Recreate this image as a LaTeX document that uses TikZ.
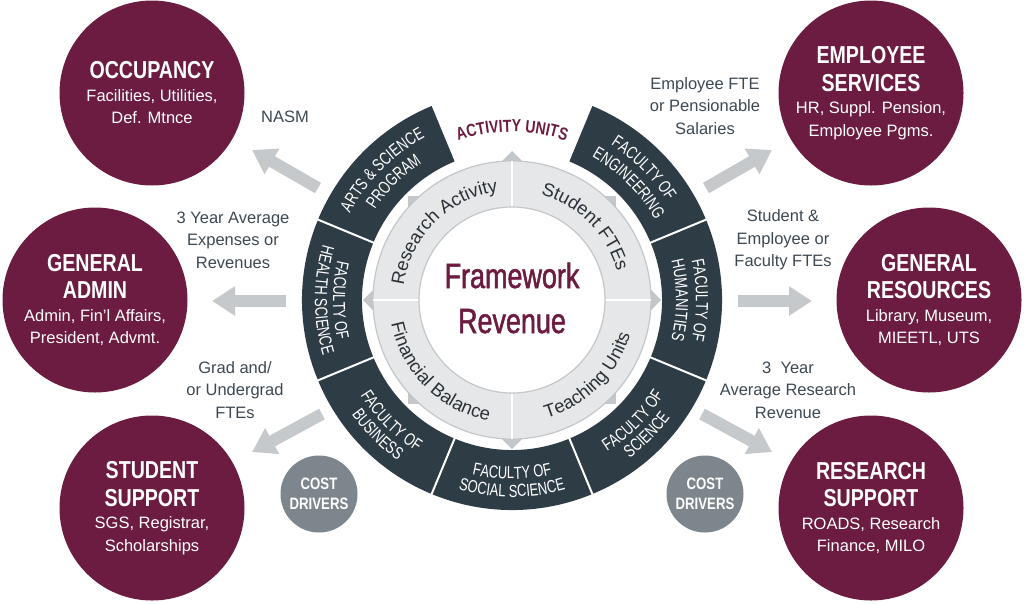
\documentclass[tikz,border=0pt]{standalone}
\usepackage{fontspec}
\setmainfont{Liberation Sans}
\newfontfamily\condf[FakeStretch=0.8]{Liberation Sans}
\newfontfamily\segfam[FakeStretch=0.74]{Liberation Sans}
\newfontfamily\medf[FakeStretch=0.77,FakeBold=1.4]{Liberation Sans}
\usetikzlibrary{arrows.meta,calc,decorations.text}
\definecolor{maroon}{HTML}{6C1B41}
\definecolor{slate}{HTML}{2E3C46}
\definecolor{arrowgray}{HTML}{C5C9CC}
\definecolor{ringfill}{HTML}{E6E7E8}
\definecolor{ringedge}{HTML}{C3C7CA}
\definecolor{labelgray}{HTML}{3C4852}
\definecolor{costgray}{HTML}{7C868C}
\definecolor{innertext}{HTML}{2A3137}
\newcommand\segf{\color{white}\segfam\fontsize{17.5}{17.5}\selectfont}
\newcommand\actf{\color{maroon}\condf\bfseries\fontsize{17.5}{17.5}\selectfont}
\newcommand\innf{\color{innertext}\fontsize{18.5}{18.5}\selectfont}
\newcommand\tfont{\condf\bfseries\fontsize{24.5}{28}\selectfont}
\newcommand\cwtxt[4]{\path[decorate,decoration={text along path,text align=center,text={|#4|#3}}] ($(C)+(#1+45:#2)$) arc[start angle=#1+45,end angle=#1-45,radius=#2];}
\newcommand\ccwtxt[4]{\path[decorate,decoration={text along path,text align=center,text={|#4|#3}}] ($(C)+(#1-45:#2)$) arc[start angle=#1-45,end angle=#1+45,radius=#2];}
\begin{document}
\begin{tikzpicture}[x=1pt,y=1pt,
  bigcircle/.style={circle, fill=maroon, minimum size=185pt, inner sep=0pt, text=white, align=center, font=\fontsize{16.5}{22.5}\selectfont},
  costcircle/.style={circle, fill=costgray, minimum size=77pt, inner sep=0pt, text=white, align=center, font=\condf\bfseries\fontsize{16.5}{20}\selectfont},
  flow/.style={draw=arrowgray, line width=12pt, -{Triangle[length=23pt,width=28pt]}},
  lbl/.style={text=labelgray, align=center, font=\fontsize{16.5}{22.5}\selectfont},
]
\useasboundingbox (0,0) rectangle (1024,-603);
\coordinate (C) at (512,-300);

% light inner ring with pointers
\fill[ringedge] ($(C)+(0,149)$) -- ($(C)+(149,0)$) -- ($(C)+(0,-149)$) -- ($(C)+(-149,0)$) -- cycle;
\fill[ringedge] ($(C)+(-104,-104)$) rectangle ($(C)+(104,104)$);
\draw[ringedge, fill=ringfill, line width=1.2pt] (C) circle[radius=139pt];
\foreach \a in {0,90,180,270} \draw[white, line width=2pt] ($(C)+(\a:93pt)$) -- ($(C)+(\a:139pt)$);
\draw[ringedge, fill=white, line width=1.2pt] (C) circle[radius=93pt];

% dark outer ring
\fill[slate] ($(C)+(112.5:210pt)$) arc[start angle=112.5, end angle=427.5, radius=210pt] -- ($(C)+(67.5:150pt)$) arc[start angle=67.5, end angle=-247.5, radius=150pt] -- cycle;
\foreach \a in {157.5,202.5,247.5,292.5,337.5,22.5} \draw[white, line width=2pt] ($(C)+(\a:149pt)$) -- ($(C)+(\a:211pt)$);

% ring labels
\cwtxt{135}{184pt}{ARTS {\&} SCIENCE}{\segf}
\cwtxt{135}{164pt}{PROGRAM}{\segf}
\cwtxt{45}{184pt}{FACULTY OF}{\segf}
\cwtxt{45}{164pt}{ENGINEERING}{\segf}
\cwtxt{0}{184pt}{FACULTY OF}{\segf}
\cwtxt{0}{164pt}{HUMANITIES}{\segf}
\ccwtxt{180}{179pt}{FACULTY OF}{\segf}
\ccwtxt{180}{197pt}{HEALTH SCIENCE}{\segf}
\ccwtxt{225}{179pt}{FACULTY OF}{\segf}
\ccwtxt{225}{197pt}{BUSINESS}{\segf}
\ccwtxt{270}{179pt}{FACULTY OF}{\segf}
\ccwtxt{270}{197pt}{SOCIAL SCIENCE}{\segf}
\ccwtxt{315}{179pt}{FACULTY OF}{\segf}
\ccwtxt{315}{197pt}{SCIENCE}{\segf}
\cwtxt{90}{168pt}{ACTIVITY UNITS}{\actf}

% inner ring labels
\cwtxt{135}{109pt}{Research Activity}{\innf}
\cwtxt{45}{109pt}{Student FTEs}{\innf}
\ccwtxt{225}{123pt}{Financial Balance}{\innf}
\ccwtxt{315}{123pt}{Teaching Units}{\innf}

\node[text=maroon, align=center, font=\medf\fontsize{35}{45}\selectfont] (fw) at (512,-298) {Framework\\Revenue};

% big circles
\node[bigcircle] (occ) at (152,-93) {{\tfont OCCUPANCY}\\Facilities, Utilities,\\Def. Mtnce};
\node[bigcircle] (adm) at (95,-300) {{\tfont GENERAL}\\[5pt]{\tfont ADMIN}\\Admin, Fin'l Affairs,\\President, Advmt.};
\node[bigcircle] (stu) at (152,-508) {{\tfont STUDENT}\\[5pt]{\tfont SUPPORT}\\SGS, Registrar,\\Scholarships};
\node[bigcircle] (emp) at (871,-93) {{\tfont EMPLOYEE}\\[5pt]{\tfont SERVICES}\\HR, Suppl. Pension,\\Employee Pgms.};
\node[bigcircle] (res) at (929,-300) {{\tfont GENERAL}\\[5pt]{\tfont RESOURCES}\\Library, Museum,\\MIEETL, UTS};
\node[bigcircle] (rsp) at (871,-508) {{\tfont RESEARCH}\\[5pt]{\tfont SUPPORT}\\ROADS, Research\\Finance, MILO};

\node[costcircle] (cd1) at (319,-494) {COST\\DRIVERS};
\node[costcircle] (cd2) at (705,-494) {COST\\DRIVERS};

% arrows
\coordinate (t1) at (318,-188); \coordinate (h1) at (252,-150);
\coordinate (t2) at (286,-301); \coordinate (h2) at (212,-301);
\coordinate (t3) at (322,-414); \coordinate (h3) at (252,-452);
\coordinate (t4) at (706,-188); \coordinate (h4) at (772,-150);
\coordinate (t5) at (738,-301); \coordinate (h5) at (812,-301);
\coordinate (t6) at (702,-414); \coordinate (h6) at (772,-452);
\draw[flow] (t1) -- (h1);
\draw[flow] (t2) -- (h2);
\draw[flow] (t3) -- (h3);
\draw[flow] (t4) -- (h4);
\draw[flow] (t5) -- (h5);
\draw[flow] (t6) -- (h6);

% labels
\node[lbl] (l1) at (285,-117) {NASM};
\node[lbl] (l2) at (233,-240) {3 Year Average\\Expenses or\\Revenues};
\node[lbl] (l3) at (235,-390) {Grad and/\\or Undergrad\\FTEs};
\node[lbl] (l4) at (705,-106) {Employee FTE\\or Pensionable\\Salaries};
\node[lbl] (l5) at (783,-240) {Student \&\\Employee or\\Faculty FTEs};
\node[lbl] (l6) at (788,-390) {3~ Year\\Average Research\\Revenue};
\end{tikzpicture}
\end{document}
